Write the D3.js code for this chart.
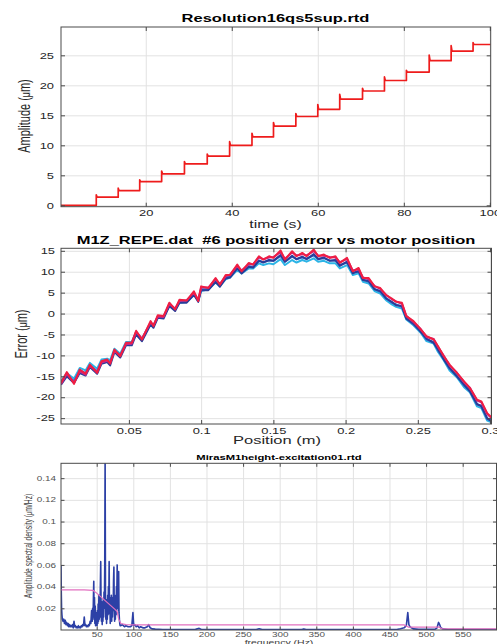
<!DOCTYPE html>
<html>
<head>
<meta charset="utf-8">
<script src="https://cdn.jsdelivr.net/npm/d3@7"></script>
<style>
  html, body { margin: 0; padding: 0; background: #fff; }
  svg { display: block; font-family: "Liberation Sans", Arial, sans-serif; }
</style>
</head>
<body>
<svg id="chart" width="497" height="644"></svg>
<script>
// ---- panel 1: resolution steps ----
const stepTimes  = [8.5, 13.6, 18.6, 23.7, 29.0, 34.3, 39.5, 44.7, 49.7, 54.9, 60.0, 65.1, 70.4, 75.5, 80.6, 85.9, 91.0, 96.1];
const stepLevels = [1.35, 2.45, 3.95, 5.25, 6.9, 8.2, 10.0, 11.4, 13.2, 14.8, 16.0, 17.7, 19.05, 20.8, 22.2, 24.1, 25.7, 26.8];
const stepPeaks  = [1.75, 2.85, 4.25, 5.7, 7.3, 8.55, 10.6, 12.0, 13.8, 15.3, 16.8, 18.5, 19.5, 21.4, 22.5, 25.05, 26.6, 27.1];
const timeTicks = [20, 40, 60, 80, 100];
const ampTicks = [0, 5, 10, 15, 20, 25];

// ---- panel 2: position error, several passes ----
const positions = [0.003,0.007,0.012,0.016,0.020,0.023,0.028,0.031,0.035,0.037,
  0.040,0.044,0.048,0.052,0.055,0.059,0.065,0.067,0.070,0.074,
  0.078,0.082,0.085,0.090,0.095,0.098,0.100,0.105,0.110,0.113,
  0.117,0.120,0.125,0.128,0.133,0.136,0.140,0.143,0.147,0.150,
  0.155,0.158,0.163,0.166,0.170,0.173,0.178,0.181,0.185,0.189,
  0.193,0.196,0.201,0.205,0.209,0.212,0.216,0.220,0.224,0.228,
  0.232,0.235,0.239,0.242,0.247,0.252,0.256,0.261,0.264,0.268,
  0.272,0.277,0.282,0.286,0.291,0.294,0.298,0.301];
const errCyan = [-16.2,-14.2,-15.6,-13.0,-13.6,-11.8,-13.2,-11.0,-10.8,-11.2,
  -8.4,-9.6,-6.8,-6.8,-4.4,-6.0,-2.4,-2.8,-0.8,-0.6,
  1.8,1.0,2.6,2.8,4.4,3.2,5.4,5.8,7.4,6.6,
  8.2,8.6,10.4,9.6,10.8,10.8,12.0,11.6,12.0,11.8,
  13.0,11.6,12.8,12.2,12.8,12.4,13.2,12.4,12.6,12.0,
  12.0,10.8,11.6,9.2,9.6,7.6,7.2,5.4,4.8,3.2,
  2.2,1.6,1.2,-1.4,-2.8,-4.6,-6.6,-7.2,-9.2,-11.2,
  -13.6,-15.2,-17.6,-18.8,-22.2,-22.6,-25.6,-26.0];
const errBlue = [-16.8,-14.6,-16.2,-13.6,-14.2,-12.4,-13.8,-11.6,-11.2,-11.8,
  -8.8,-10.0,-7.2,-7.0,-4.6,-6.2,-2.4,-3.0,-0.8,-0.8,
  2.0,0.9,2.8,2.9,4.7,3.1,5.8,5.9,7.8,6.7,
  8.6,8.9,10.9,9.9,11.3,11.2,12.7,12.3,12.7,12.6,
  13.8,12.4,13.6,13.0,13.4,13.1,13.9,13.1,13.2,12.7,
  12.6,11.6,12.2,9.8,10.0,8.1,7.6,5.9,5.2,3.8,
  2.6,2.2,1.6,-1.0,-2.6,-4.2,-6.2,-6.8,-8.8,-10.8,
  -13.2,-14.8,-17.2,-18.4,-21.8,-22.0,-25.2,-25.6];
const errNavy = [-17.0,-15.0,-16.6,-14.2,-14.8,-12.8,-14.4,-12.0,-11.6,-12.4,
  -9.2,-10.5,-7.6,-7.6,-5.0,-6.6,-2.6,-3.4,-1.0,-1.2,
  1.8,0.6,2.6,2.6,4.5,2.8,5.6,5.6,7.6,6.4,
  8.4,8.6,10.8,9.6,11.2,11.0,12.6,12.2,12.8,12.6,
  14.0,12.4,13.8,13.0,13.6,13.0,14.2,13.0,13.4,12.6,
  12.8,11.4,12.4,9.6,10.2,8.0,7.8,5.8,5.4,3.6,
  2.8,2.0,1.8,-1.2,-2.4,-4.4,-6.0,-7.0,-8.6,-11.0,
  -13.0,-15.0,-17.0,-18.6,-21.6,-22.2,-25.0,-25.8];
const errMagenta = [-16.9,-14.4,-16.5,-13.8,-14.6,-12.5,-14.0,-11.7,-11.3,-11.8,
  -8.9,-10.0,-7.3,-7.2,-4.4,-6.0,-2.1,-2.8,-0.7,-0.8,
  2.3,1.2,3.0,3.2,5.0,3.3,6.2,6.2,8.2,7.1,
  8.9,9.3,11.4,10.3,11.8,11.8,13.4,13.0,13.4,13.5,
  14.7,13.1,14.6,13.9,14.2,13.9,14.9,13.9,13.8,13.5,
  13.4,12.3,13.0,10.3,10.6,8.6,8.2,6.6,5.9,4.5,
  3.4,2.9,2.3,-0.5,-2.0,-3.7,-5.6,-6.1,-8.0,-10.1,
  -12.4,-14.1,-16.4,-17.7,-20.8,-21.2,-24.0,-25.0];
const errRed = [-16.6,-14.0,-16.8,-13.4,-14.4,-12.2,-14.2,-11.4,-11.0,-12.0,
  -8.6,-10.2,-7.0,-7.0,-4.1,-6.2,-1.8,-3.0,-0.4,-0.6,
  2.6,1.0,3.3,3.1,5.3,3.0,6.5,6.1,8.5,6.9,
  9.2,9.2,11.7,10.1,12.1,11.7,13.7,12.9,13.7,13.3,
  15.1,12.9,14.9,13.7,14.5,13.7,15.3,13.7,14.1,13.3,
  13.7,12.1,13.3,10.1,10.9,8.5,8.5,6.5,6.1,4.4,
  3.6,2.8,2.6,-0.6,-1.8,-3.8,-5.4,-6.2,-7.8,-10.2,
  -12.2,-14.2,-16.2,-17.8,-20.6,-21.0,-23.8,-24.8];
const errSeries = [errCyan, errBlue, errNavy, errMagenta, errRed];
const errColors = ['#2cb4e6', '#3a6cc6', '#2a3c98', '#c4288c', '#f01e42'];
const posTicks = [0.05, 0.1, 0.15, 0.2, 0.25, 0.3];
const errTicks = [-25, -20, -15, -10, -5, 0, 5, 10, 15];

// ---- panel 3: amplitude spectral density ----
const specFreqLow = [1.2,1.6,2,2.5,3,4,5,6,7,8,9,10,11,12,13,14,15,16,17,18,19,20,21,22,23,
  24,25,26,27,28,29,30,31,32,33,34,35,36,37,38,39,40,41,42,43];
const specAmpLow = [0.060,0.035,0.020,0.014,0.010,0.008,0.010,0.006,0.009,0.005,0.007,0.004,0.006,0.003,0.005,
  0.003,0.004,0.003,0.005,0.002,0.008,0.003,0.004,0.002,0.003,
  0.002,0.004,0.002,0.003,0.002,0.004,0.003,0.005,0.004,0.012,
  0.004,0.005,0.003,0.004,0.003,0.005,0.004,0.008,0.006,0.018];
const specFreqBand = [44,44.5,45,45.5,46,46.5,47,47.5,48,48.5,49,49.5,50,50.5,51,51.5,52,52.5,53,53.5,
  54,54.5,55,55.5,56,56.5,57,57.5,58,58.5,59,59.5,60,60.5,61,61.5,62,62.5,63,63.5,
  64,64.5,65,65.5,66,66.5,67,67.5,68,68.5,69,69.5,70,70.5,71,71.5,72,72.5,73,73.5,
  74,74.5,75,75.5,76,76.5,77,77.5,78,78.5,79,79.5,80,80.5,81,81.5,82];
const specAmpBand = [0.008,0.020,0.010,0.028,0.045,0.012,0.030,0.006,0.022,0.004,0.016,0.005,0.012,0.004,0.018,0.006,0.024,0.008,0.032,0.010,
  0.028,0.012,0.040,0.063,0.020,0.008,0.026,0.005,0.020,0.008,0.028,0.012,0.035,0.020,0.060,0.160,0.030,0.010,0.028,0.006,
  0.024,0.010,0.032,0.014,0.040,0.020,0.063,0.015,0.030,0.006,0.026,0.010,0.032,0.008,0.024,0.012,0.030,0.018,0.045,0.058,
  0.020,0.008,0.028,0.010,0.032,0.014,0.040,0.030,0.060,0.020,0.030,0.018,0.054,0.016,0.010,0.006,0.004];
const specFreqHigh = [83,85,88,90,93,96,98,99.5,100.5,102,104,106,108,110,113,116,119,121,123,126,
  130,140,160,185,190,193,220,268,272,276,330,333,336,400,460,465,470,473,475,476.5,
  478,480,483,490,512,515,517,518.5,520,523,530,560,597];
const specAmpHigh = [0.004,0.005,0.003,0.004,0.003,0.003,0.004,0.016,0.004,0.005,0.003,0.004,0.002,0.003,0.002,0.002,0.003,0.005,0.002,0.001,
  0.0008,0.0005,0.0005,0.0006,0.0015,0.0005,0.0004,0.0004,0.0012,0.0004,0.0004,0.001,0.0004,0.0004,0.0005,0.0012,0.002,0.004,0.016,0.005,
  0.003,0.002,0.001,0.0006,0.0006,0.002,0.007,0.005,0.002,0.001,0.0005,0.0004,0.0004];
const envFreq = [1.2, 33, 45, 50, 55, 60, 65, 70, 75, 78, 80, 83, 90, 100, 470, 476, 518, 522, 597];
const envAmp = [0.037, 0.037, 0.0365, 0.034, 0.031, 0.028, 0.025, 0.022, 0.019, 0.017, 0.010, 0.006, 0.005, 0.0047, 0.0047, 0.0026, 0.0026, 0.001, 0.001];
const freqTicks = [50, 100, 150, 200, 250, 300, 350, 400, 450, 500, 550];
const asdTicks = [0.02, 0.04, 0.06, 0.08, 0.1, 0.12, 0.14];

// the reference image is stretched horizontally, text included
const SX = 1.5;
const GRID = '#e2e2e2';
const AXIS = '#4a4a4a';

const svg = d3.select('#chart');
const defs = svg.append('defs');

function addText(x, y, str, size, opts = {}) {
  const t = svg.append('text')
    .attr('transform', `translate(${x},${y}) scale(${SX},1)` + (opts.rotate ? ' rotate(-90)' : ''))
    .attr('text-anchor', 'middle')
    .attr('font-size', size)
    .attr('font-weight', opts.bold ? 'bold' : null)
    .attr('fill', opts.fill || '#262626')
    .style('white-space', 'pre');
  if (opts.rotate) t.attr('dy', '0.35em');
  if (opts.mu) {
    t.append('tspan').text(opts.mu[0]);
    t.append('tspan').attr('font-size', size * 0.8).text('μ');
    t.append('tspan').text(opts.mu[1]);
  } else {
    t.text(str);
  }
  return t;
}

function stretch(sel, size, fill) {
  sel.attr('font-family', null).attr('font-size', null);
  sel.selectAll('.domain').remove();
  sel.selectAll('line').attr('stroke', AXIS);
  sel.selectAll('text')
    .attr('font-size', size)
    .attr('fill', fill)
    .each(function () {
      const t = d3.select(this);
      t.attr('x', (+t.attr('x') || 0) / SX).attr('transform', `scale(${SX},1)`);
    });
}

function makePanel(cfg) {
  const x = d3.scaleLinear().domain(cfg.xDomain).range([cfg.left, cfg.right]);
  const y = d3.scaleLinear().domain(cfg.yDomain).range([cfg.bottom, cfg.top]);
  const w = cfg.right - cfg.left;
  const h = cfg.bottom - cfg.top;
  const g = svg.append('g');

  // grid
  g.append('g')
    .attr('transform', `translate(0,${cfg.bottom})`)
    .call(d3.axisBottom(x).tickValues(cfg.xTicks).tickSize(-h).tickFormat(''))
    .call((s) => s.select('.domain').remove())
    .selectAll('line').attr('stroke', GRID);
  g.append('g')
    .attr('transform', `translate(${cfg.left},0)`)
    .call(d3.axisLeft(y).tickValues(cfg.yTicks).tickSize(-w).tickFormat(''))
    .call((s) => s.select('.domain').remove())
    .selectAll('line').attr('stroke', GRID);

  defs.append('clipPath').attr('id', 'clip' + cfg.id)
    .append('rect')
    .attr('x', cfg.left).attr('y', cfg.top)
    .attr('width', w).attr('height', h);
  const plot = g.append('g').attr('clip-path', `url(#clip${cfg.id})`);

  const deco = svg.append('g');
  deco.append('rect')
    .attr('x', cfg.left).attr('y', cfg.top)
    .attr('width', w).attr('height', h)
    .attr('fill', 'none').attr('stroke', AXIS).attr('stroke-width', 1);

  deco.append('g')
    .attr('transform', `translate(0,${cfg.bottom})`)
    .call(d3.axisBottom(x).tickValues(cfg.xTicks).tickSize(-cfg.tick).tickPadding(cfg.xPad).tickFormat((d) => String(d)))
    .call((s) => stretch(s, cfg.tickFont, cfg.tickFill));
  deco.append('g')
    .attr('transform', `translate(0,${cfg.top})`)
    .call(d3.axisTop(x).tickValues(cfg.xTicks).tickSize(-cfg.tick).tickFormat(''))
    .call((s) => stretch(s, cfg.tickFont, cfg.tickFill));
  deco.append('g')
    .attr('transform', `translate(${cfg.left},0)`)
    .call(d3.axisLeft(y).tickValues(cfg.yTicks).tickSize(-cfg.tick).tickPadding(cfg.yPad).tickFormat((d) => String(d)))
    .call((s) => stretch(s, cfg.tickFont, cfg.tickFill));
  deco.append('g')
    .attr('transform', `translate(${cfg.right},0)`)
    .call(d3.axisRight(y).tickValues(cfg.yTicks).tickSize(-cfg.tick).tickFormat(''))
    .call((s) => stretch(s, cfg.tickFont, cfg.tickFill));

  return { plot, x, y };
}

// ---------- panel 1 ----------
const p1 = makePanel({
  id: 1, left: 61, right: 490.7, top: 27, bottom: 206.7,
  xDomain: [0.3, 100.2], yDomain: [-0.23, 29.72],
  xTicks: timeTicks, yTicks: ampTicks,
  tick: 4, xPad: 3.5, yPad: 7, tickFont: 8.6, tickFill: '#262626'
});

let stepPts = [[0.3, 0]];
let prev = 0;
stepTimes.forEach((t, i) => {
  stepPts.push([t, prev], [t, stepPeaks[i]], [t + 0.2, stepLevels[i]]);
  prev = stepLevels[i];
});
stepPts.push([100.2, prev]);

p1.plot.append('path')
  .datum(stepPts)
  .attr('d', d3.line().x((d) => p1.x(d[0])).y((d) => p1.y(d[1])))
  .attr('fill', 'none')
  .attr('stroke', '#ee1c1c')
  .attr('stroke-width', 1.7)
  .attr('stroke-linejoin', 'round');

addText(275.5, 21.5, 'Resolution16qs5sup.rtd', 11, { bold: true, fill: '#000' });
addText(275.5, 227.5, 'time (s)', 10.5);
addText(24, 116, '', 11, { rotate: true, mu: ['Amplitude (', 'm)'] });

// ---------- panel 2 ----------
const p2 = makePanel({
  id: 2, left: 61, right: 491.5, top: 248.3, bottom: 424,
  xDomain: [0.003, 0.301], yDomain: [-26.4, 15.6],
  xTicks: posTicks, yTicks: errTicks,
  tick: 4, xPad: 4, yPad: 6, tickFont: 8.6, tickFill: '#262626'
});

const errLine = d3.line()
  .x((d, i) => p2.x(positions[i]))
  .y((d) => p2.y(d));

errSeries.forEach((s, k) => {
  p2.plot.append('path')
    .datum(s)
    .attr('d', errLine)
    .attr('fill', 'none')
    .attr('stroke', errColors[k])
    .attr('stroke-width', 2)
    .attr('stroke-linejoin', 'round');
});

addText(276, 244, 'M1Z_REPE.dat  #6 position error vs motor position', 11, { bold: true, fill: '#000' });
addText(277, 444, 'Position (m)', 11);
addText(21, 334, '', 11, { rotate: true, mu: ['Error (', 'm)'] });

// ---------- panel 3 ----------
const p3 = makePanel({
  id: 3, left: 61, right: 496.5, top: 463.3, bottom: 630,
  xDomain: [1.23, 596.2], yDomain: [0, 0.1537],
  xTicks: freqTicks, yTicks: asdTicks,
  tick: 3.5, xPad: 2.8, yPad: 5, tickFont: 6.6, tickFill: '#505050'
});

const specFreq = specFreqLow.concat(specFreqBand, specFreqHigh);
const specAmp = specAmpLow.concat(specAmpBand, specAmpHigh);

p3.plot.append('path')
  .datum(specAmp)
  .attr('d', d3.line().x((d, i) => p3.x(specFreq[i])).y((d) => p3.y(d)))
  .attr('fill', 'none')
  .attr('stroke', '#2c40a6')
  .attr('stroke-width', 1.6)
  .attr('stroke-linejoin', 'round');

p3.plot.append('path')
  .datum(envAmp)
  .attr('d', d3.line().x((d, i) => p3.x(envFreq[i])).y((d) => p3.y(d)))
  .attr('fill', 'none')
  .attr('stroke', '#e270c0')
  .attr('stroke-width', 1.2);

addText(279, 460, 'MirasM1height-excitation01.rtd', 7.5, { bold: true, fill: '#000' });
addText(279, 644.5, 'frequency (Hz)', 7, { fill: '#404040' });
addText(28, 546, '', 6.8, { rotate: true, fill: '#404040', mu: ['Amplitude spectral density (', 'm/Hz)'] });
</script>
</body>
</html>
